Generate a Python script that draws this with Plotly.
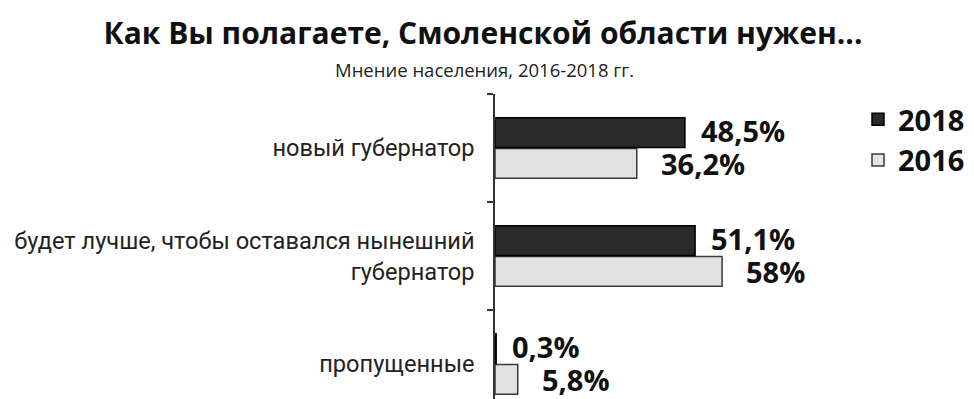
import plotly.graph_objects as go

# categories, bottom to top as plotly draws them
categories = ["пропущенные",
              "будет лучше, чтобы оставался нынешний<br>губернатор",
              "новый губернатор"]
values_2018 = [0.3, 51.1, 48.5]
values_2016 = [5.8, 58.0, 36.2]
labels_2018 = ["0,3%", "51,1%", "48,5%"]
labels_2016 = ["5,8%", "58%", "36,2%"]

title_text = "Как Вы полагаете, Смоленской области нужен..."
subtitle_text = "Мнение населения, 2016-2018 гг."

# the page has an 8px body margin, so figure pixels = page pixels - 8
L, T, W = 487, 86, 325
PH = 399 - T

fig = go.Figure()

# 2016 first so it sits below 2018 inside each group
fig.add_trace(go.Bar(
    y=categories, x=values_2016, orientation="h", name="2016",
    marker=dict(color="#e2e2e2", line=dict(color="#3a3a3a", width=1.5)),
))
fig.add_trace(go.Bar(
    y=categories, x=values_2018, orientation="h", name="2018",
    marker=dict(color="#2a2a2a", line=dict(color="#000000", width=1.5)),
))

# value labels
for cat, v, t in zip(categories, values_2018, labels_2018):
    fig.add_annotation(x=v, y=cat, text=t, showarrow=False, xanchor="left",
                       xshift=14, yshift=18,
                       font=dict(family="Open Sans", size=29, color="#111111", weight="bold"))
for cat, v, t in zip(categories, values_2016, labels_2016):
    fig.add_annotation(x=v, y=cat, text=t, showarrow=False, xanchor="left",
                       xshift=22, yshift=-15,
                       font=dict(family="Open Sans", size=29, color="#111111", weight="bold"))

# subtitle
fig.add_annotation(xref="paper", yref="paper", x=(476 - L) / W, y=1 + (T - 62) / PH,
                   text=subtitle_text, showarrow=False, xanchor="center", yanchor="middle",
                   font=dict(family="Open Sans", size=18.5, color="#222222"))

fig.update_layout(
    width=974, height=399,
    margin=dict(l=L, r=974 - L - W, t=T, b=0, autoexpand=False),
    paper_bgcolor="white", plot_bgcolor="white",
    barmode="group", bargap=0.43, bargroupgap=0.03,
    title=dict(text=title_text, x=475 / 974, xanchor="center", xref="container",
               y=1 - 25 / 399, yref="container", yanchor="middle",
               font=dict(family="Open Sans", size=30, color="#111111", weight="bold")),
    legend=dict(x=(850 - L) / W, xref="paper", y=1.0, yref="paper",
                xanchor="left", yanchor="top", traceorder="reversed",
                font=dict(family="Open Sans", size=29, color="#111111", weight="bold"),
                itemclick=False, tracegroupgap=0),
    showlegend=True,
)
fig.update_xaxes(range=[0, 83], visible=False, showgrid=False, zeroline=False)
fig.update_yaxes(
    type="category", categoryorder="array", categoryarray=categories,
    range=[2.5 - PH / 108, 2.5], tickson="boundaries",
    ticks="outside", ticklen=6, tickcolor="#333333", tickwidth=1.5,
    showline=True, linecolor="#333333", linewidth=1.5,
    showgrid=False, zeroline=False, ticklabelstandoff=14,
    tickfont=dict(family="Roboto", size=23.6, color="#222222"),
)

fig.write_html("out.html")
